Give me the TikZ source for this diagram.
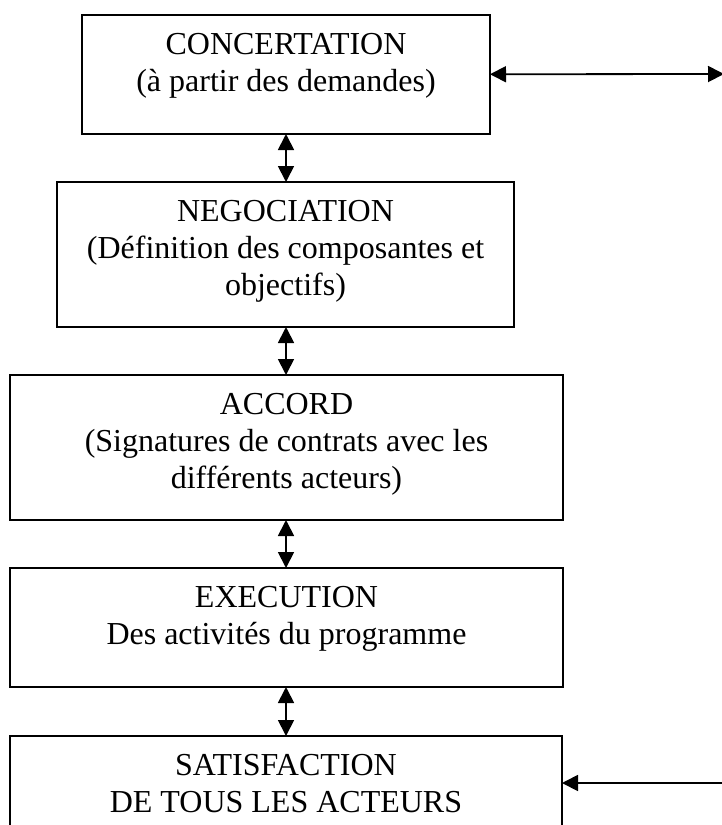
\documentclass[tikz,border=0pt]{standalone}
\usepackage{fontspec}
\setmainfont{Liberation Serif}
\usetikzlibrary{arrows.meta}
\begin{document}
\begin{tikzpicture}[x=1pt, y=-1pt,
  stage/.style={draw, line width=2pt, inner sep=0pt, outer sep=0pt},
  label/.style={anchor=north, align=center, inner sep=0pt,
    font={\fontsize{32}{36.8}\selectfont}},
  link/.style={line width=1.8pt, {Triangle[length=16pt,width=16pt]}-{Triangle[length=16pt,width=16pt]}},
  feed/.style={line width=1.8pt, -{Triangle[length=16pt,width=16pt]}}]
\useasboundingbox (0,0) rectangle (722,825);
\clip (0,0) rectangle (722,825);

% the five stages
\node[stage, minimum width=408pt, minimum height=119.5pt] (concert) at (286,74.25) {};
\node[stage, minimum width=457pt, minimum height=145pt] (nego) at (285.5,254.5) {};
\node[stage, minimum width=553pt, minimum height=145pt] (accord) at (286.5,447.5) {};
\node[stage, minimum width=553pt, minimum height=119pt] (exec) at (286.5,627.5) {};
\node[stage, minimum width=552pt, minimum height=134pt] (satis) at (286,803) {};

% their texts
\node[label] (tconcert) at ([yshift=-18.5pt]concert.north) {CONCERTATION\\(à partir des demandes)};
\node[label] (tnego) at ([yshift=-18.5pt]nego.north) {NEGOCIATION\\(Définition des composantes et\\objectifs)};
\node[label] (taccord) at ([yshift=-18.5pt]accord.north) {ACCORD\\(Signatures de contrats avec les\\différents acteurs)};
\node[label] (texec) at ([yshift=-18.5pt]exec.north) {EXECUTION\\Des activités du programme};
\node[label] (tsatis) at ([yshift=-18.5pt]satis.north) {SATISFACTION\\DE TOUS LES ACTEURS};

% links between successive stages
\draw[link] (concert.south) -- (concert.south |- nego.north);
\draw[link] (nego.south -| concert.south) -- (concert.south |- accord.north);
\draw[link] (accord.south -| concert.south) -- (concert.south |- exec.north);
\draw[link] (exec.south -| concert.south) -- (concert.south |- satis.north);

% side connectors
\coordinate (outtop) at (724,74);
\coordinate (outbot) at (724,783);
\draw[link] (concert.east) -- (outtop);
\draw[feed] (outbot) -- (satis.east |- outbot);
\end{tikzpicture}
\end{document}
